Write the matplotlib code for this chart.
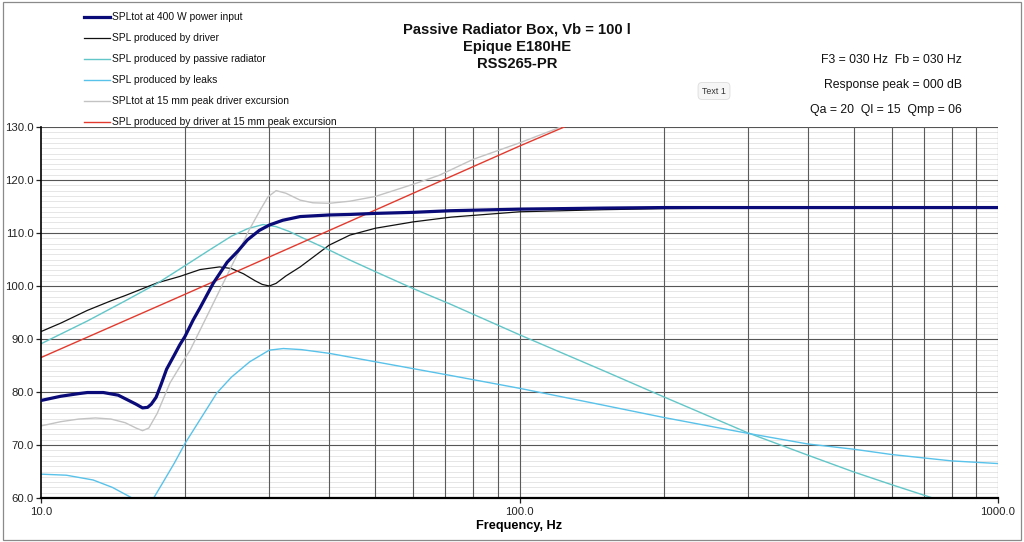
#!/usr/bin/env python3
"""Passive radiator box response chart (SPL vs frequency)."""

import numpy as np
import matplotlib

matplotlib.use("Agg")
import matplotlib.pyplot as plt
from matplotlib.lines import Line2D
from matplotlib.patches import Rectangle
from matplotlib.ticker import FixedLocator, MultipleLocator, NullFormatter

plt.rcParams["font.family"] = ["Liberation Sans", "DejaVu Sans"]

# --- data ---
TOT_F = [10, 11, 12, 12.5, 13.5, 14.5, 15.1, 15.8, 16.3, 16.7, 17.0, 17.4, 17.8, 18.3, 19, 19.5,
         20, 20.8, 21.5, 22.9, 24.5, 25.8, 27, 28.6, 30, 32, 34.8, 40, 44.2, 50, 60, 71.6, 100,
         150, 200, 300, 500, 1000]
TOT_DB = [78.4, 79.2, 79.7, 79.9, 79.9, 79.4, 78.6, 77.7, 77.0, 77.1, 77.7, 79.0, 81.3, 84.3, 87.0, 88.9,
          90.5, 93.6, 95.9, 100.5, 104.5, 106.6, 108.7, 110.5, 111.5, 112.4, 113.1, 113.4, 113.5, 113.7,
          113.9, 114.2, 114.5, 114.7, 114.8, 114.8, 114.8, 114.8]

DRV_F = [10, 11, 12.5, 14, 15, 17.5, 19.5, 21.5, 23.6, 25, 26.5, 28, 29, 30, 31, 32.5, 34.8, 40,
         44.2, 50, 60, 72, 100, 150, 200, 300, 500, 1000]
DRV_DB = [91.4, 93.0, 95.4, 97.2, 98.2, 100.6, 101.8, 103.1, 103.6, 103.3, 102.3, 101.0, 100.3, 100.0,
          100.5, 101.9, 103.6, 107.7, 109.6, 110.9, 112.1, 113.0, 114.0, 114.4, 114.6, 114.7, 114.8, 114.8]

PR_F = [10, 12.5, 15, 17.5, 19.5, 22.5, 25, 27, 29.1, 31, 33, 34.8, 40, 44.2, 50, 60, 71.6, 100, 150,
        200, 300, 400, 500, 600, 730]
PR_DB = [89.1, 93.4, 97.2, 100.5, 103.2, 106.8, 109.4, 110.8, 111.6, 111.2, 110.3, 109.3, 106.8,
         104.9, 102.7, 99.5, 96.6, 90.8, 84.0, 79.1, 72.3, 68.1, 64.9, 62.5, 60.0]

LEAK_F = [10, 11.3, 12.85, 14.1, 15.5, np.nan, 17.2, 18, 19, 20, 21.5, 23.3, 25, 27.3, 30,
          32.1, 35, 40, 50, 70, 100, 150, 200, 300, 400, 500, 600, 800, 1000]
LEAK_DB = [64.5, 64.3, 63.4, 62.0, 60.0, np.nan, 60.0, 63.0, 66.6, 70.3, 74.8, 79.8, 82.8, 85.7, 87.9,
           88.2, 88.0, 87.3, 85.7, 83.3, 80.7, 77.5, 75.2, 72.2, 70.2, 69.2, 68.2, 67.0, 66.5]

EXC_F = [10, 11, 12, 13, 14, 15, 15.8, 16.3, 16.8, 17.5, 18.6, 20, 20.5, 22.9, 25.8, 27.2,
         28.7, 29.8, 31.0, 32.5, 34.8, 37, 40, 44.2, 50, 60, 68, 80, 100, 122]
EXC_DB = [73.6, 74.4, 74.9, 75.1, 74.9, 74.2, 73.2, 72.7, 73.2, 76.0, 81.7, 86.4, 87.9, 96.7,
          106.2, 110.5, 114.3, 116.8, 118.0, 117.5, 116.2, 115.7, 115.6, 116.0, 116.9, 119.2, 120.9,
          123.9, 127.0, 130.0]

RED_F = [10, 19.5, 44.2, 100, 124]
RED_DB = [86.5, 98.0, 112.2, 126.4, 130.0]

SERIES = [
    ("SPLtot at 400 W power input", TOT_F, TOT_DB, "#0a0a78", 2.3),
    ("SPL produced by driver", DRV_F, DRV_DB, "#111111", 0.9),
    ("SPL produced by passive radiator", PR_F, PR_DB, "#62c6c8", 1.0),
    ("SPL produced by leaks", LEAK_F, LEAK_DB, "#58c2ea", 1.0),
    ("SPLtot at 15 mm peak driver excursion", EXC_F, EXC_DB, "#c3c3c3", 1.0),
    ("SPL produced by driver at 15 mm peak excursion", RED_F, RED_DB, "#e23a2e", 1.0),
]

TITLE_LINES = ["Passive Radiator Box, Vb = 100 l", "Epique E180HE", "RSS265-PR"]
INFO_LINES = ["F3 = 030 Hz  Fb = 030 Hz", "Response peak = 000 dB", "Qa = 20  Ql = 15  Qmp = 06"]

W, H = 1024, 542


def fx(px):
    return px / W


def fy(py):
    return 1 - py / H


def main():
    fig = plt.figure(figsize=(W / 100, H / 100), dpi=100)
    fig.patch.set_facecolor("white")
    fig.add_artist(Rectangle((fx(3), fy(540)), fx(1021) - fx(3), fy(2) - fy(540),
                             transform=fig.transFigure, fill=False, ec="#8a8a8a", lw=0.9))

    ax = fig.add_axes([fx(41), fy(498), fx(998) - fx(41), fy(127) - fy(498)])
    ax.set_xscale("log")
    ax.set_xlim(10, 1000)
    ax.set_ylim(60, 130)

    # grid: light 1 dB lines, darker 10 dB lines and decade subdivisions
    ax.yaxis.set_major_locator(MultipleLocator(10))
    ax.yaxis.set_minor_locator(MultipleLocator(1))
    ax.grid(True, which="minor", axis="y", color="#e2e2e2", lw=0.6, zorder=0.3)
    ax.xaxis.set_major_locator(FixedLocator([10, 100, 1000]))
    ax.xaxis.set_minor_locator(FixedLocator([]))
    ax.xaxis.set_minor_formatter(NullFormatter())
    ax.set_axisbelow(True)
    for v in range(70, 131, 10):
        ax.axhline(v, color="#555555", lw=0.8, zorder=1.1)
    vgrid = [m * 10 ** d for d in (1, 2) for m in range(2, 10)] + [100, 1000]
    for v in vgrid:
        ax.axvline(v, color="#5a5a5a", lw=0.8, zorder=1.2)

    for label, f, db, color, lw in SERIES:
        ax.plot(f, db, color=color, lw=lw, solid_joinstyle="round", zorder=3 if lw > 2 else 2.5)

    for s in ("top", "right"):
        ax.spines[s].set_visible(False)
    ax.spines["left"].set_linewidth(1.2)
    ax.spines["bottom"].set_linewidth(1.6)

    ax.set_xticklabels(["10.0", "100.0", "1000.0"])
    ax.yaxis.set_major_formatter(lambda v, p: f"{v:.1f}")
    ax.tick_params(axis="both", which="major", direction="out", length=3.5, width=0.9,
                   labelsize=8.2, colors="#222222", pad=2)
    ax.tick_params(axis="y", which="minor", length=0)
    ax.tick_params(axis="x", which="major", pad=3)
    ax.set_xlabel("Frequency, Hz", fontsize=9.2, fontweight="bold", labelpad=2.5)

    # legend, drawn at the top-left of the chart area
    for i, (label, f, db, color, lw) in enumerate(SERIES):
        yy = fy(17 + 21 * i)
        fig.add_artist(Line2D([fx(84), fx(110)], [yy, yy], transform=fig.transFigure,
                              color=color, lw=lw))
        fig.text(fx(112), yy, label, fontsize=7.4, va="center", ha="left", color="#111111")

    for i, line in enumerate(TITLE_LINES):
        fig.text(fx(517), fy(30 + 17 * i), line, fontsize=10.6, fontweight="bold",
                 ha="center", va="center", color="#111111")

    for i, line in enumerate(INFO_LINES):
        fig.text(fx(962), fy(60 + 25 * i), line, fontsize=8.8, ha="right", va="center",
                 color="#111111")

    fig.text(fx(714), fy(91), "Text 1", fontsize=6.4, ha="center", va="center", color="#333333",
             bbox=dict(boxstyle="round,pad=0.45", fc="#f6f6f6", ec="#dddddd", lw=0.6))

    fig.savefig("out.png", dpi=100)
    plt.close(fig)


if __name__ == "__main__":
    main()
